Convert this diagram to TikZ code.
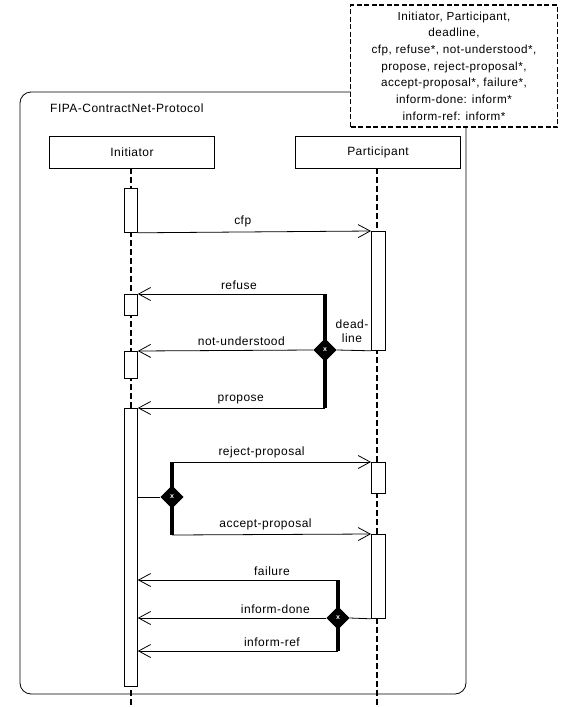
\documentclass[tikz,border=0pt]{standalone}
\usepackage{fontspec}
\setmainfont{Liberation Sans}[LetterSpace=4]
\usetikzlibrary{arrows.meta,shapes.geometric}
\begin{document}
\begin{tikzpicture}[x=1pt,y=-1pt,
  lbl/.style={font=\fontsize{12}{13}\selectfont, inner sep=0pt},
  head/.style={draw, line width=0.8pt, minimum width=165pt, minimum height=32pt, font=\fontsize{12}{13}\selectfont, inner sep=0pt},
  life/.style={line width=1.8pt, dash pattern=on 6pt off 3pt},
  act/.style={draw, fill=white, line width=0.8pt},
  msg/.style={line width=0.8pt, -{Straight Barb[length=12pt,width=13pt,line width=0.8pt]}},
  plain/.style={line width=0.8pt},
  bar/.style={line width=4pt},
  xor/.style={diamond, fill=black, minimum width=23pt, minimum height=23pt, inner sep=0pt,
    font=\fontsize{7}{7}\bfseries\selectfont, text=white}
]
\useasboundingbox (0,0) rectangle (566,707);
% frame
\draw[line width=0.8pt, rounded corners=11pt] (20,92) rectangle (466,694);
\node[lbl, anchor=west] (title) at (50,108) {FIPA-ContractNet-Protocol};
% parameter box
\node[draw, fill=white, line width=1.6pt, dash pattern=on 5pt off 2.5pt, minimum width=207pt, minimum height=122pt,
  align=center, font=\fontsize{11.7}{14.4}\selectfont, inner sep=2pt] (params) at (454,66)
  {Initiator, Participant,\\[2.3pt]deadline,\\[2.3pt]cfp, refuse*, not-understood*,\\[2.3pt]propose, reject-proposal*,\\[2.3pt]accept-proposal*, failure*,\\[2.3pt]inform-done: inform*\\[2.3pt]inform-ref: inform*};
% headers
\node[head] (ini) at (132,152) {Initiator};
\node[head] (par) at (378,152) {Participant};
% lifeline coordinates
\coordinate (iend) at (131,707);
\coordinate (pend) at (377,707);
\draw[life] (131,168) -- (iend);
\draw[life] (377,168) -- (pend);
% activations initiator
\node[act, anchor=north west, minimum width=13pt, minimum height=44pt, inner sep=0pt] (ia1) at (124,188) {};
\node[act, anchor=north west, minimum width=13pt, minimum height=21pt, inner sep=0pt] (ia2) at (124,294) {};
\node[act, anchor=north west, minimum width=13pt, minimum height=27pt, inner sep=0pt] (ia3) at (124,351) {};
\node[act, anchor=north west, minimum width=13pt, minimum height=278pt, inner sep=0pt] (ia4) at (124,408) {};
% activations participant
\node[act, anchor=north west, minimum width=14pt, minimum height=119pt, inner sep=0pt] (pa1) at (371,231) {};
\node[act, anchor=north west, minimum width=14pt, minimum height=31pt, inner sep=0pt] (pa2) at (371,462) {};
\node[act, anchor=north west, minimum width=14pt, minimum height=84pt, inner sep=0pt] (pa3) at (371,534) {};
% cfp
\draw[msg] (ia1.south east) -- (pa1.north west) node[lbl, pos=0.45, above=5pt] {cfp};
% first decision
\node[xor] (d1) at (325,350) {x};
\coordinate (d1t) at (325,294);
\coordinate (d1b) at (325,408);
\draw[bar] (d1t) -- (d1b);
\node[xor] at (d1) {x};
\draw[msg] (d1t) -- (ia2.north east) node[lbl, pos=0.46, above=4pt] {refuse};
\draw[plain] (pa1.south west) -- (d1.east);
\draw[msg] (d1.west) -- (ia3.north east) node[lbl, pos=0.41, above=4pt] {not-understood};
\draw[msg] (d1b) -- (ia4.north east) node[lbl, pos=0.45, above=4pt] {propose};
\node[lbl, align=center, font=\fontsize{12}{14}\selectfont] (dl) at (352,331) {dead-\\line};
% second decision
\node[xor] (d2) at (172,497) {x};
\coordinate (d2t) at (172,462);
\coordinate (d2b) at (172,535);
\draw[bar] (d2t) -- (d2b);
\node[xor] at (d2) {x};
\draw[plain] (ia4.east |- d2) -- (d2.west);
\draw[msg] (d2t) -- (pa2.north west) node[lbl, pos=0.45, above=4pt] {reject-proposal};
\draw[msg] (d2b) -- (pa3.north west) node[lbl, pos=0.47, above=4pt] {accept-proposal};
% third decision
\node[xor] (d3) at (338,618) {x};
\coordinate (d3t) at (338,580);
\coordinate (d3b) at (338,651);
\draw[bar] (d3t) -- (d3b);
\node[xor] at (d3) {x};
\draw[msg] (d3t) -- (ia4.east |- d3t) node[lbl, pos=0.33, above=4pt] {failure};
\draw[plain] (pa3.south west) -- (d3.east);
\draw[msg] (d3.west) -- (ia4.east |- d3) node[lbl, pos=0.27, above=4pt] {inform-done};
\draw[msg] (d3b) -- (ia4.east |- d3b) node[lbl, pos=0.33, above=4pt] {inform-ref};
\end{tikzpicture}
\end{document}
